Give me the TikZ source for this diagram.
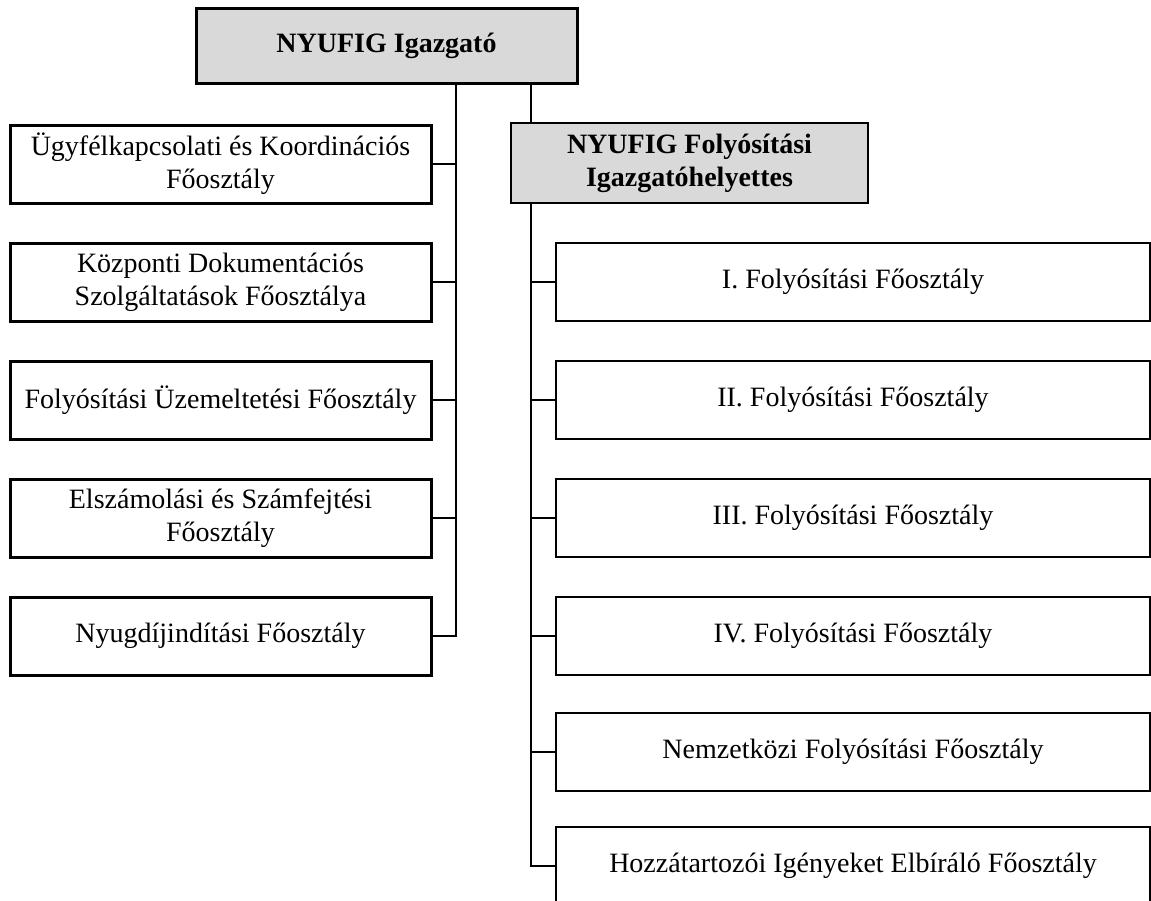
\documentclass[tikz,border=0pt]{standalone}
\usepackage{fontspec}
\setmainfont{Liberation Serif}
\usetikzlibrary{positioning}
\definecolor{boxgray}{HTML}{D9D9D9}
\tikzset{unit/.style={draw, align=center, inner sep=0pt, font=\fontsize{14}{16.5}\selectfont}}
\tikzset{leftunit/.style={unit, line width=1.5pt, minimum width=210.5pt, minimum height=39pt}}
\tikzset{rightunit/.style={unit, line width=1.15pt, minimum width=297pt, minimum height=39pt}}
\tikzset{head/.style={unit, fill=boxgray, font=\fontsize{14}{16.5}\selectfont\bfseries}}
\tikzset{link/.style={draw=black, line width=1pt}}

\begin{document}
\begin{tikzpicture}[x=0.5pt, y=-0.5pt]
  \useasboundingbox (0,0) rectangle (1151,900);

    %%%% Heads
    \node[head, line width=1.5pt, minimum width=190.5pt, minimum height=37.5pt](dir) at (386.5, 45.5) {NYUFIG Igazgató};
    \node[head, line width=1.1pt, minimum width=178.5pt, minimum height=40pt](dep) at (689.5, 163) {NYUFIG Folyósítási\\Igazgatóhelyettes};

    %%%% Left column
    \node[leftunit](l1) at (220.5, 164) {Ügyfélkapcsolati és Koordinációs\\Főosztály};
    \node[leftunit](l2) at (220.5, 282) {Központi Dokumentációs\\Szolgáltatások Főosztálya};
    \node[leftunit](l3) at (220.5, 400) {Folyósítási Üzemeltetési Főosztály};
    \node[leftunit](l4) at (220.5, 518) {Elszámolási és Számfejtési\\Főosztály};
    \node[leftunit](l5) at (220.5, 636) {Nyugdíjindítási Főosztály};

    %%%% Right column
    \node[rightunit](r1) at (853, 282) {I. Folyósítási Főosztály};
    \node[rightunit](r2) at (853, 400) {II. Folyósítási Főosztály};
    \node[rightunit](r3) at (853, 518) {III. Folyósítási Főosztály};
    \node[rightunit](r4) at (853, 636) {IV. Folyósítási Főosztály};
    \node[rightunit](r5) at (853, 752) {Nemzetközi Folyósítási Főosztály};
    \node[rightunit](r6) at (853, 866) {Hozzátartozói Igényeket Elbíráló Főosztály};

    %%%% Bus lines
    \coordinate (lbus) at (456, 0);
    \coordinate (rbus) at (531, 0);

    \draw [link] (dir.south -| lbus) |- (l5.east);
    \foreach \n in {1,...,4}
      \draw [link] (l\n.east) -- (l\n.east -| lbus);

    \draw [link] (dir.south -| rbus) -- (dep.north -| rbus);
    \draw [link] (dep.south -| rbus) |- (r6.west);
    \foreach \n in {1,...,5}
      \draw [link] (r\n.west) -- (r\n.west -| rbus);

  \end{tikzpicture}
\end{document}
